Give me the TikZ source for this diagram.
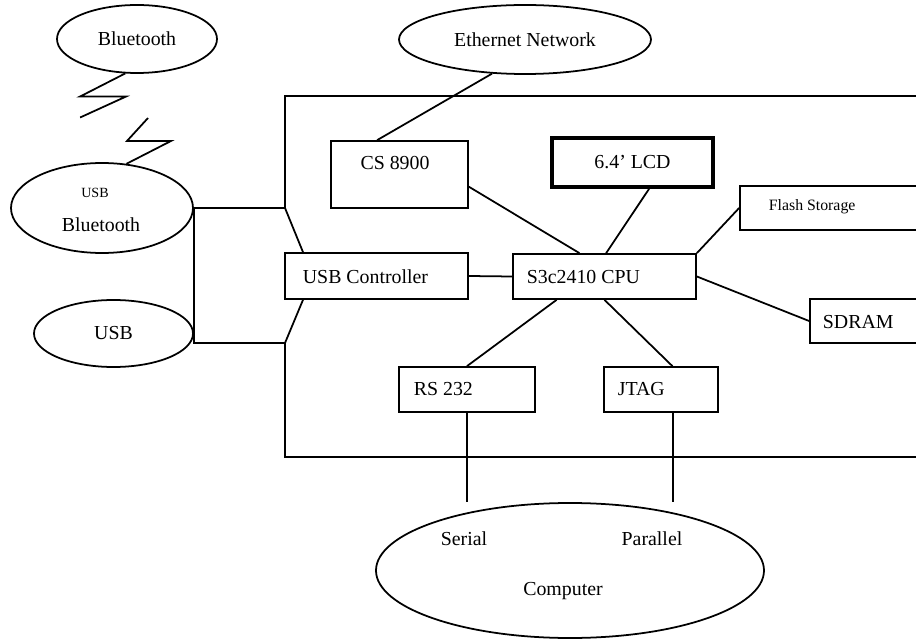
\documentclass[tikz,border=0pt]{standalone}
\usepackage{fontspec}
\setmainfont{Liberation Serif}
\usetikzlibrary{shapes.geometric, calc, positioning}
\tikzset{
  blk/.style={draw, rectangle, inner sep=0pt},
  oval/.style={draw, ellipse, inner sep=0pt},
  lbl/.style={inner sep=0pt},
}

\begin{document}
\begin{tikzpicture}[x=0.2mm, y=-0.2mm, line width=1pt, font=\fontsize{11.3}{13.5}\selectfont]

\useasboundingbox (0,0) rectangle (916,639);
\clip (0,0) rectangle (916,639);

\node[oval, minimum width=32mm, minimum height=13.6mm] (bt) at (137,39) {Bluetooth};
\node[oval, minimum width=36.4mm, minimum height=18mm] (usbbt) at (102,208) {};
\node[oval, minimum width=31.8mm, minimum height=13.4mm] (usb) at (113.5,333.5) {USB};
\node[oval, minimum width=50.4mm, minimum height=13.8mm] (eth) at (525,39.5) {Ethernet Network};
\node[oval, minimum width=77.6mm, minimum height=27mm] (pc) at (570,570.5) {};

\node[blk, minimum width=27.4mm, minimum height=13.4mm] (cs) at (399.5,174.5) {};
\node[blk, line width=2.2pt, minimum width=32.2mm, minimum height=9.8mm] (lcd) at (632.5,162.5) {6.4’ LCD};
\node[blk, minimum width=44mm, minimum height=8.8mm] (flash) at (850,208) {};
\node[blk, minimum width=36.6mm, minimum height=9.2mm] (usbc) at (376.5,276) {};
\node[blk, minimum width=36.6mm, minimum height=9mm] (cpu) at (604.5,276.5) {};
\node[blk, minimum width=30mm, minimum height=8.8mm] (sdram) at (885,321) {};
\node[blk, minimum width=27.2mm, minimum height=9mm] (rs) at (467,389.5) {};
\node[blk, minimum width=22.8mm, minimum height=9mm] (jtag) at (661,389.5) {};

\node[lbl, font=\fontsize{8}{9}\selectfont] (btusb) at (95,193) {USB};
\node[lbl] (bttxt) at (101,225) {Bluetooth};
\node[lbl] (cstxt) at (395,163) {CS 8900};
\node[lbl, anchor=west] (usbctxt) at (302,277) {USB Controller};
\node[lbl, anchor=west] (cputxt) at (526,277) {S3c2410 CPU};
\node[lbl, anchor=west, font=\fontsize{9}{11}\selectfont] (flashtxt) at (768,207) {Flash Storage};
\node[lbl, anchor=west] (sdramtxt) at (822,322) {SDRAM};
\node[lbl, anchor=west] (rstxt) at (413,389) {RS 232};
\node[lbl, anchor=west] (jtagtxt) at (617,389) {JTAG};
\node[lbl] (serial) at (464,539) {Serial};
\node[lbl] (parallel) at (652,539) {Parallel};
\node[lbl] (computer) at (563,591) {Computer};

\coordinate (j1) at (285,208);
\coordinate (j2) at (285,343);
\coordinate (zz) at (148,118);
\coordinate (jt) at ($(jtag.south)+(12,0)$);

% board outline
\draw (940,96) -- (285,96) -- (j1) -- (usbc.162);
\draw (usbc.198) -- (j2) -- (285,457) -- (940,457);

\draw (usbbt.east) -- (j1);
\draw (usbbt.east) -- (usbbt.east |- j2) -- (j2);

% radio link
\draw (bt.-109) -- ++(-45,23) -- ++(46,0) -- ++(-46,21);
\draw (zz) -- ++(-21,23) -- ++(44,0) -- (usbbt.61);

\draw (eth.-134) -- (cs.123);
\draw (cs.-10) -- (cpu.137);
\draw (lcd.-58) -- (cpu.86);
\draw (cpu.north east) -- (flash.west);
\draw (cpu.east) -- (sdram.west);
\draw (usbc.east) -- (cpu.west);
\draw (cpu.-154) -- (rs.north);
\draw (cpu.south) -- (jtag.64);

\draw (rs.south) -- (rs.south |- pc.north);
\draw (jt) -- (jt |- pc.north);

\end{tikzpicture}
\end{document}
